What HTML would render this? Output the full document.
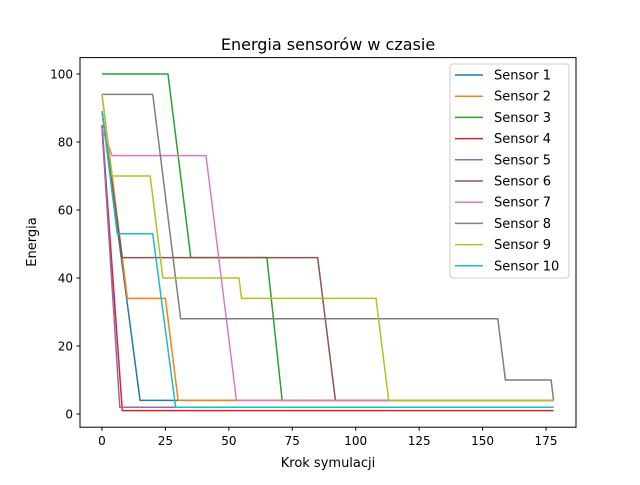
<!DOCTYPE html>
<html><head><meta charset="utf-8"><style>
body{margin:0;background:#fff;}
svg text{font-family:"DejaVu Sans","Liberation Sans",sans-serif;}
</style></head><body>
<svg id="chart" width="640" height="480" xmlns="http://www.w3.org/2000/svg">
<rect width="640" height="480" fill="#fff"/>
<text x="328" y="50" font-size="16" text-anchor="middle">Energia sensorów w czasie</text>
<g id="plot"></g>
<rect x="80" y="57.6" width="496" height="369.6" fill="none" stroke="#000" stroke-width="1"/>
<g id="ticks"></g>
<text x="328" y="467" font-size="13" text-anchor="middle">Krok symulacji</text>
<text transform="translate(36,242) rotate(-90)" font-size="13" text-anchor="middle">Energia</text>
<g id="legend"></g>
</svg>
<script>
const seriesNames=["Sensor 1","Sensor 2","Sensor 3","Sensor 4","Sensor 5","Sensor 6","Sensor 7","Sensor 8","Sensor 9","Sensor 10"];
const colors=["#1f77b4","#ff7f0e","#2ca02c","#d62728","#9467bd","#8c564b","#e377c2","#7f7f7f","#bcbd22","#17becf"];
const s1x=[0,15,178], s1y=[89,4,4];
const s2x=[0,10,25,30,178], s2y=[94,34,34,4,4];
const s3x=[0,26,35,65,71,178], s3y=[100,100,46,46,4,4];
const s4x=[0,8,178], s4y=[85,1,1];
const s5x=[0,7,178], s5y=[84,2,2];
const s6x=[0,8,85,92,178], s6y=[89,46,46,4,4];
const s7x=[0,4,41,53,178], s7y=[84,76,76,4,4];
const s8x=[0,20,31,156,159,177,178], s8y=[94,94,28,28,10,10,4];
const s9x=[0,4,19,24,54,55,108,113,178], s9y=[94,70,70,40,40,34,34,4,4];
const s10x=[0,6,20,29,178], s10y=[89,53,53,2,2];
const xTicks=[0,25,50,75,100,125,150,175];
const yTicks=[0,20,40,60,80,100];
const XS=[s1x,s2x,s3x,s4x,s5x,s6x,s7x,s8x,s9x,s10x];
const YS=[s1y,s2y,s3y,s4y,s5y,s6y,s7y,s8y,s9y,s10y];
const NS="http://www.w3.org/2000/svg";
function sx(v){return 102+v*(444/175);}
function sy(v){return 414-v*3.4;}
const plot=document.getElementById('plot');
for(let i=0;i<XS.length;i++){
 const p=document.createElementNS(NS,'polyline');
 p.setAttribute('points',XS[i].map((x,j)=>sx(x)+','+sy(YS[i][j])).join(' '));
 p.setAttribute('fill','none');p.setAttribute('stroke',colors[i]);p.setAttribute('stroke-width','1.5');
 
 
 plot.appendChild(p);
}
const tk=document.getElementById('ticks');
xTicks.forEach(t=>{
 const l=document.createElementNS(NS,'line');
 l.setAttribute('x1',sx(t));l.setAttribute('x2',sx(t));l.setAttribute('y1',427.2);l.setAttribute('y2',430.7);l.setAttribute('stroke','#000');
 
 
 tk.appendChild(l);
 const tx=document.createElementNS(NS,'text');
 tx.setAttribute('x',sx(t));tx.setAttribute('y',445);tx.setAttribute('font-size','12');tx.setAttribute('text-anchor','middle');tx.textContent=t;
 
 
 tk.appendChild(tx);
});
yTicks.forEach(t=>{
 const l=document.createElementNS(NS,'line');
 l.setAttribute('x1',76.5);l.setAttribute('x2',80);l.setAttribute('y1',sy(t));l.setAttribute('y2',sy(t));l.setAttribute('stroke','#000');
 
 
 tk.appendChild(l);
 const tx=document.createElementNS(NS,'text');
 tx.setAttribute('x',73);tx.setAttribute('y',sy(t)+4.5);tx.setAttribute('font-size','12');tx.setAttribute('text-anchor','end');tx.textContent=t;
 
 
 tk.appendChild(tx);
});
const lg=document.getElementById('legend');
const box=document.createElementNS(NS,'rect');
box.setAttribute('x',450);box.setAttribute('y',64);box.setAttribute('width',119);box.setAttribute('height',214);box.setAttribute('rx',3);
box.setAttribute('fill','#fff');box.setAttribute('fill-opacity','0.8');box.setAttribute('stroke','#ccc');


lg.appendChild(box);
seriesNames.forEach((n,i)=>{
 const y=75+i*21.2;
 const l=document.createElementNS(NS,'line');
 l.setAttribute('x1',455);l.setAttribute('x2',483);l.setAttribute('y1',y);l.setAttribute('y2',y);l.setAttribute('stroke',colors[i]);l.setAttribute('stroke-width','1.5');
 
 
 lg.appendChild(l);
 const tx=document.createElementNS(NS,'text');
 tx.setAttribute('x',494);tx.setAttribute('y',y+4.5);tx.setAttribute('font-size','13');tx.textContent=n;
 
 
 lg.appendChild(tx);
});
</script>
</body></html>
